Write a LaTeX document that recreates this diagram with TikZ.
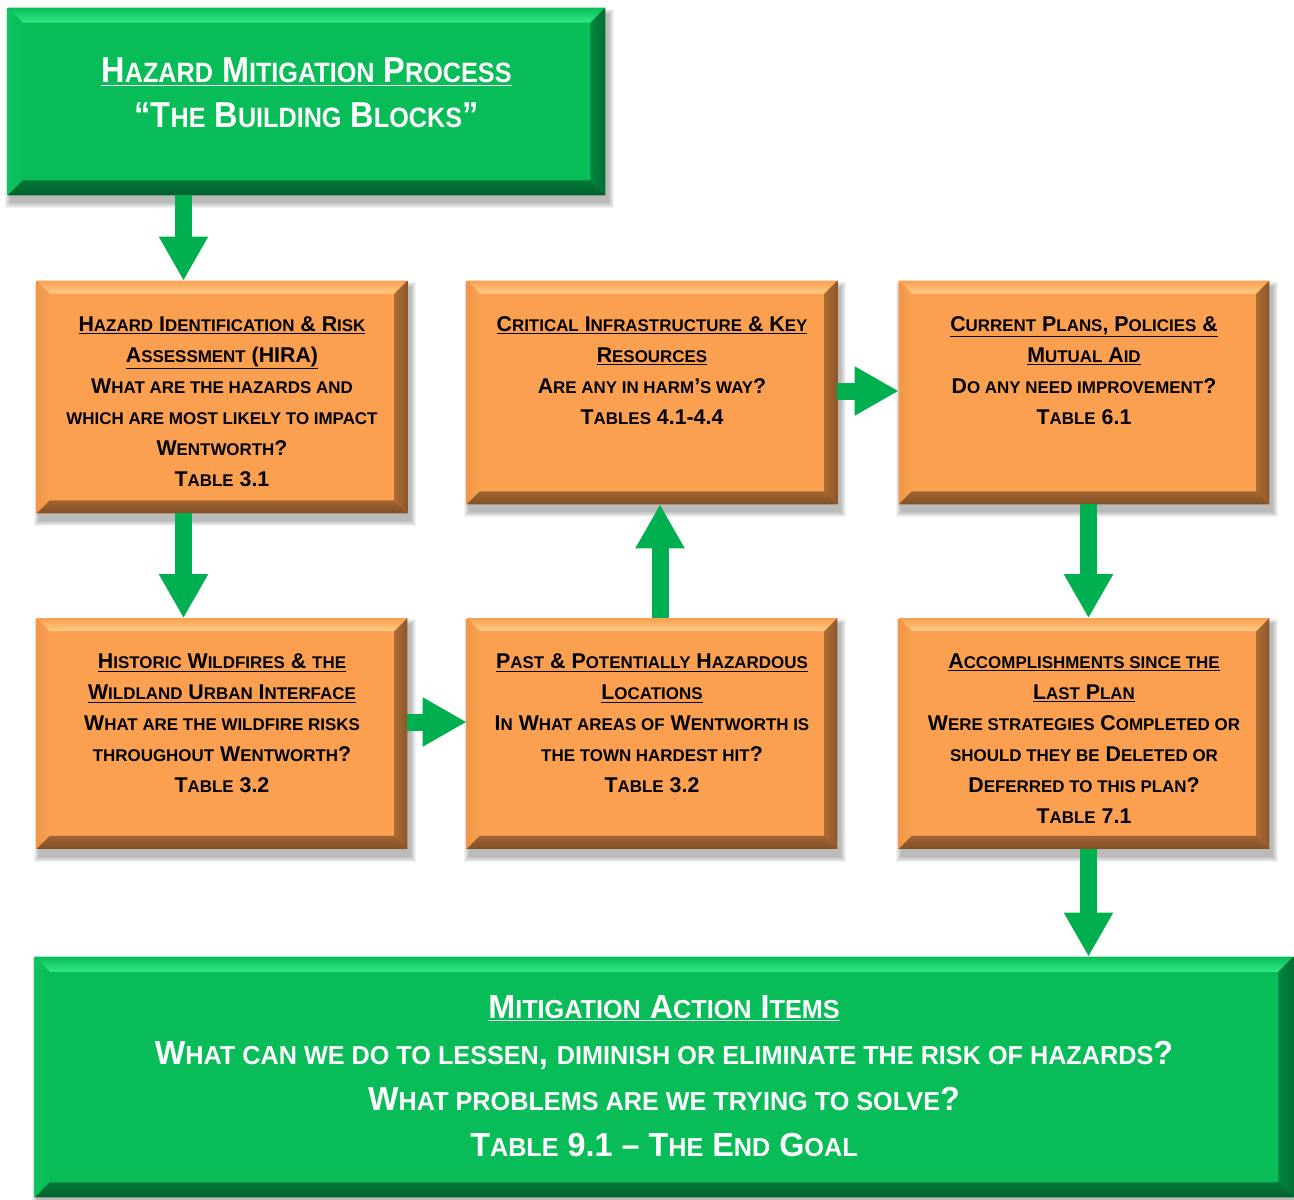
\documentclass[tikz,border=0pt]{standalone}
\usepackage{fontspec}
\setmainfont{Liberation Sans}
\newfontfamily\narrowf{Liberation Sans}[FakeStretch=0.9]
\newfontfamily\narrowb{Liberation Sans}[FakeStretch=0.97]
\usetikzlibrary{arrows.meta,calc}
\pgfdeclarelayer{background}
\pgfsetlayers{background,main}
\definecolor{arrowgreen}{RGB}{0,176,80}
\definecolor{gfill}{RGB}{8,188,88}
\definecolor{gtop}{RGB}{50,232,135}
\definecolor{gleft}{RGB}{14,196,96}
\definecolor{gright}{RGB}{0,110,50}
\definecolor{gbot}{RGB}{0,96,44}
\definecolor{ofill}{RGB}{250,160,80}
\definecolor{otop}{RGB}{255,205,135}
\definecolor{oleft}{RGB}{240,150,72}
\definecolor{oright}{RGB}{140,86,42}
\definecolor{obot}{RGB}{130,80,38}
\newcommand\ssz{\small}
\newcommand\s[1]{{\ssz #1}}
% bevel: node, bevel px, fill, top, left, right, bottom
\newcommand\bevel[7]{%
\begin{pgfonlayer}{background}
\foreach \i in {1,...,6}{
\fill[black,opacity=0.05] ([shift={(3-\i,7-\i)}]#1.north west) rectangle ([shift={(3+\i,7+\i)}]#1.south east);}
\fill[#3] (#1.north west) rectangle (#1.south east);
\shade[top color=#3, bottom color=#4] (#1.north west) -- (#1.north east) -- ([shift={(-#2,#2)}]#1.north east) -- ([shift={(#2,#2)}]#1.north west) -- cycle;
\shade[left color=#5, right color=#3] (#1.north west) -- ([shift={(#2,#2)}]#1.north west) -- ([shift={(#2,-#2)}]#1.south west) -- (#1.south west) -- cycle;
\shade[left color=#6!70!#3, right color=#6] (#1.north east) -- ([shift={(-#2,#2)}]#1.north east) -- ([shift={(-#2,-#2)}]#1.south east) -- (#1.south east) -- cycle;
\shade[top color=#7!75!#3, bottom color=#7] (#1.south west) -- (#1.south east) -- ([shift={(-#2,-#2)}]#1.south east) -- ([shift={(#2,-#2)}]#1.south west) -- cycle;
\end{pgfonlayer}}
\tikzset{
  x=0.75pt, y=-0.75pt,
  boxshape/.style={rectangle, inner sep=0pt, minimum width=#1},
  otext/.style={anchor=north, align=center, inner sep=0pt, text=black,
    font={\bfseries\fontsize{16pt}{23.25pt}\selectfont\renewcommand\ssz{\fontsize{12.7pt}{23.25pt}\selectfont}}},
  gtext/.style={anchor=north, align=center, inner sep=0pt, text=white,
    font={\narrowf\bfseries\fontsize{27pt}{33.75pt}\selectfont\renewcommand\ssz{\fontsize{21pt}{33.75pt}\selectfont}}},
  btext/.style={anchor=north, align=center, inner sep=0pt, text=white,
    font={\narrowb\bfseries\fontsize{25pt}{34.5pt}\selectfont\renewcommand\ssz{\fontsize{19.5pt}{34.5pt}\selectfont}}},
  garrow/.style={draw=arrowgreen, line width=12.75pt,
    -{Triangle[width=34.5pt,length=33pt,color=arrowgreen]}},
}
\begin{document}
\begin{tikzpicture}
\useasboundingbox (0,0) rectangle (1294,1199);
% boxes
\node[boxshape=447.75pt, minimum height=140.25pt] (top) at (306.5,101.5) {};
\node[boxshape=277.5pt, minimum height=174pt] (hira) at (222,397) {};
\node[boxshape=277.5pt, minimum height=167.25pt] (crit) at (652,392.5) {};
\node[boxshape=277.5pt, minimum height=167.25pt] (cur) at (1084,392.5) {};
\node[boxshape=277.5pt, minimum height=172.5pt] (hist) at (222,733.5) {};
\node[boxshape=277.5pt, minimum height=172.5pt] (past) at (652,733.5) {};
\node[boxshape=277.5pt, minimum height=172.5pt] (acc) at (1084,733.5) {};
\node[boxshape=943.5pt, minimum height=180pt] (bot) at (664,1077) {};
\bevel{top}{15}{gfill}{gtop}{gleft}{gright}{gbot}
\bevel{bot}{15}{gfill}{gtop}{gleft}{gright}{gbot}
\foreach \b in {hira,crit,cur,hist,past,acc}{\bevel{\b}{13}{ofill}{otop}{oleft}{oright}{obot}}
% texts
\node[gtext] (top-t) at ($(top.north)+(0,50)$) {\underline{H\s{AZARD} M\s{ITIGATION} P\s{ROCESS}}\\
“T\s{HE} B\s{UILDING} B\s{LOCKS}”};
\node[otext] (hira-t) at ($(hira.north)+(0,35.5)$) {\underline{H\s{AZARD} I\s{DENTIFICATION} \& R\s{ISK}}\\
\underline{A\s{SSESSMENT} (HIRA)}\\
W\s{HAT ARE THE HAZARDS AND}\\
\s{WHICH ARE MOST LIKELY TO IMPACT}\\
W\s{ENTWORTH}?\\
T\s{ABLE} 3.1};
\node[otext] (crit-t) at ($(crit.north)+(0,35.5)$) {\underline{C\s{RITICAL} I\s{NFRASTRUCTURE} \& K\s{EY}}\\
\underline{R\s{ESOURCES}}\\
A\s{RE ANY IN HARM}’\s{S WAY}?\\
T\s{ABLES} 4.1-4.4};
\node[otext] (cur-t) at ($(cur.north)+(0,35.5)$) {\underline{C\s{URRENT} P\s{LANS}, P\s{OLICIES} \&}\\
\underline{M\s{UTUAL} A\s{ID}}\\
D\s{O ANY NEED IMPROVEMENT}?\\
T\s{ABLE} 6.1};
\node[otext] (hist-t) at ($(hist.north)+(0,35.5)$) {\underline{H\s{ISTORIC} W\s{ILDFIRES} \& \s{THE}}\\
\underline{W\s{ILDLAND} U\s{RBAN} I\s{NTERFACE}}\\
W\s{HAT ARE THE WILDFIRE RISKS}\\
\s{THROUGHOUT} W\s{ENTWORTH}?\\
T\s{ABLE} 3.2};
\node[otext] (past-t) at ($(past.north)+(0,35.5)$) {\underline{P\s{AST} \& P\s{OTENTIALLY} H\s{AZARDOUS}}\\
\underline{L\s{OCATIONS}}\\
I\s{N} W\s{HAT AREAS OF} W\s{ENTWORTH IS}\\
\s{THE TOWN HARDEST HIT}?\\
T\s{ABLE} 3.2};
\node[otext] (acc-t) at ($(acc.north)+(0,35.5)$) {\underline{A\s{CCOMPLISHMENTS SINCE THE}}\\
\underline{L\s{AST} P\s{LAN}}\\
W\s{ERE STRATEGIES} C\s{OMPLETED OR}\\
\s{SHOULD THEY BE} D\s{ELETED OR}\\
D\s{EFERRED TO THIS PLAN}?\\
T\s{ABLE} 7.1};
\node[btext] (bot-t) at ($(bot.north)+(0,38.5)$) {\underline{M\s{ITIGATION} A\s{CTION} I\s{TEMS}}\\
W\s{HAT CAN WE DO TO LESSEN}, \s{DIMINISH OR ELIMINATE THE RISK OF HAZARDS}?\\
W\s{HAT PROBLEMS ARE WE TRYING TO SOLVE}?\\
T\s{ABLE} 9.1 – T\s{HE} E\s{ND} G\s{OAL}};
% arrows
\coordinate (a1) at (183.5,0);
\coordinate (a3) at (0,722);
\coordinate (a4) at (660,0);
\coordinate (a5) at (0,391);
\coordinate (a6) at (1088.5,0);
\draw[garrow] (top.south -| a1) -- (hira.north -| a1);
\draw[garrow] (hira.south -| a1) -- (hist.north -| a1);
\draw[garrow] (hist.east |- a3) -- (past.west |- a3);
\draw[garrow] (past.north -| a4) -- (crit.south -| a4);
\draw[garrow] (crit.east |- a5) -- (cur.west |- a5);
\draw[garrow] (cur.south -| a6) -- (acc.north -| a6);
\draw[garrow] (acc.south -| a6) -- (bot.north -| a6);
\end{tikzpicture}
\end{document}
